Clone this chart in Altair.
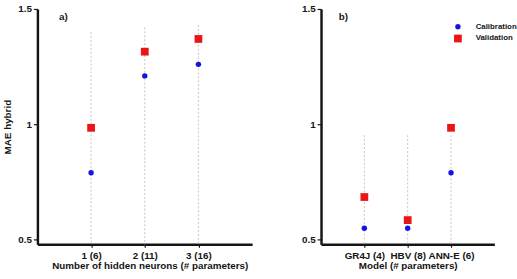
import altair as alt
import pandas as pd

# Panel a): hybrid model with different numbers of hidden neurons
neurons = ["1 (6)", "2 (11)", "3 (16)"]
neurons_cal = [0.79, 1.21, 1.26]
neurons_val = [0.985, 1.315, 1.37]
neurons_guide_top = [1.40, 1.42, 1.43]

# Panel b): comparison of models
models = ["GR4J (4)", "HBV (8)", "ANN-E (6)"]
models_cal = [0.55, 0.55, 0.79]
models_val = [0.685, 0.585, 0.985]
models_guide_top = [0.953, 0.953, 0.953]

series = ["Calibration", "Validation"]
colors = ["#1414e0", "#ea1515"]
shapes = ["circle", "square"]

Y_MIN, Y_MAX = 0.48, 1.5
FONT = "Liberation Sans"
INK = "#151515"


def long_table(cats, cal, val):
    rows = []
    for c, a, b in zip(cats, cal, val):
        rows.append({"cat": c, "series": "Calibration", "value": a})
        rows.append({"cat": c, "series": "Validation", "value": b})
    return pd.DataFrame(rows)


def guide_table(cats, tops):
    return pd.DataFrame({"cat": cats, "top": tops, "bottom": [Y_MIN] * len(cats)})


def panel(cats, cal, val, tops, xtitle, ytitle, tag, tag_x, width, title_x,
          show_legend):
    xscale = alt.Scale(type="point", padding=1)
    xaxis = alt.Axis(title=xtitle, labelAngle=0, tickSize=3, labelPadding=3,
                     titlePadding=1, titleX=title_x, domainColor=INK,
                     domainWidth=2.5, tickColor=INK, tickWidth=1.2)
    yscale = alt.Scale(domain=[Y_MIN, Y_MAX], nice=False, zero=False)
    yaxis = alt.Axis(title=ytitle, values=[0.5, 1, 1.5], format="~g", grid=False,
                     tickSize=4, labelPadding=2, titlePadding=5,
                     domainColor=INK, domainWidth=2.5, tickColor=INK, tickWidth=1.2)

    guides = alt.Chart(guide_table(cats, tops)).mark_rule(
        color="#c4c4c4", strokeDash=[2, 2], strokeWidth=1
    ).encode(
        x=alt.X("cat:N", sort=cats, scale=xscale, axis=xaxis),
        y=alt.Y("top:Q", scale=yscale, axis=yaxis),
        y2="bottom:Q",
    )

    legend = (
        alt.Legend(
            title=None, orient="none", legendX=135, legendY=14,
            labelFont=FONT, labelFontSize=8, labelFontWeight="bold",
            labelColor=INK, symbolSize=40, rowPadding=4, padding=0,
            labelOffset=14, symbolStrokeWidth=0,
        )
        if show_legend
        else None
    )

    points = alt.Chart(long_table(cats, cal, val)).mark_point(
        filled=True, opacity=1
    ).encode(
        x=alt.X("cat:N", sort=cats, scale=xscale, axis=xaxis),
        y=alt.Y("value:Q", scale=yscale, axis=yaxis),
        color=alt.Color(
            "series:N", scale=alt.Scale(domain=series, range=colors), legend=legend
        ),
        shape=alt.Shape(
            "series:N", scale=alt.Scale(domain=series, range=shapes), legend=legend
        ),
        size=alt.Size(
            "series:N",
            scale=alt.Scale(domain=series, range=[30, 62]),
            legend=None,
        ),
    )

    label = alt.Chart(pd.DataFrame({"t": [tag]})).mark_text(
        font=FONT, fontSize=10, fontWeight="bold", align="left", baseline="middle",
        color=INK,
    ).encode(text="t:N", x=alt.value(tag_x), y=alt.value(8))

    return alt.layer(guides, points, label).properties(width=width, height=239)


left = panel(neurons, neurons_cal, neurons_val, neurons_guide_top,
             "Number of hidden neurons (# parameters)", "MAE hybrid", "a)", 22,
             218, 114, False)
right = panel(models, models_cal, models_val, models_guide_top,
              "Model (# parameters)", None, "b)", 18, 176, 88, True)

chart = (
    alt.hconcat(left, right, spacing=70, bounds="flush")
    .resolve_scale(color="independent", shape="independent", size="independent")
    .properties(
        padding={"left": 3, "top": 2, "right": 0, "bottom": 0},
        background="white",
    )
    .configure_view(stroke=None)
    .configure_axis(
        domainColor=INK, domainWidth=2.5, tickColor=INK, tickWidth=1.2,
        labelFont=FONT, labelFontSize=10, labelFontWeight="bold", labelColor=INK,
        titleFont=FONT, titleFontSize=10, titleFontWeight="bold", titleColor=INK,
    )
)

chart.save("out.html", embed_options={"renderer": "svg", "actions": False})
